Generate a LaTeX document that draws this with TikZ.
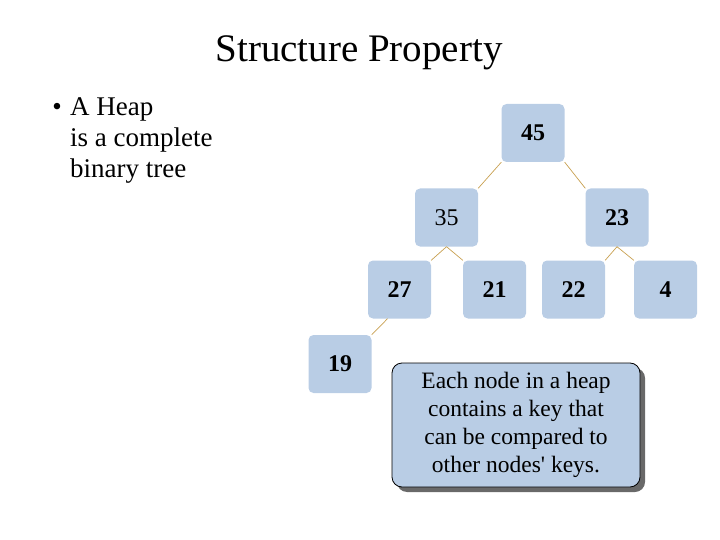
\documentclass[tikz,border=0pt]{standalone}
\usepackage{fontspec}
\setmainfont{Liberation Serif}[Ligatures=TeXOff]
\usetikzlibrary{shadows}
\definecolor{keyblue}{RGB}{185,205,229}
\definecolor{branchgold}{RGB}{200,160,80}
\definecolor{shadowgray}{RGB}{105,105,105}

\begin{document}
\begin{tikzpicture}[
    x=1pt, y=-1pt,
    key/.style={fill=keyblue, rounded corners=5pt, minimum width=63pt, minimum height=58pt, inner sep=0pt,
                font=\fontsize{24}{28}\selectfont\bfseries},
    keylight/.style={key, font=\fontsize{24}{28}\selectfont},
    branch/.style={draw=branchgold, line width=0.7pt},
    callout/.style={draw, line width=0.8pt, fill=keyblue, rounded corners=10pt, minimum width=248pt, minimum height=124pt,
                    align=center, font=\fontsize{23.5}{28}\selectfont,
                    drop shadow={shadow xshift=5pt, shadow yshift=-5pt, fill=shadowgray, opacity=1}},
]
\useasboundingbox (0,0) rectangle (720,540);

% Title and bullet text
\node[font=\fontsize{39}{44}\selectfont, anchor=base] (title) at (359,62) {Structure Property};
\node[font=\fontsize{27}{31}\selectfont, anchor=base] (bul) at (57,116) {•};
\node[font=\fontsize{27}{31}\selectfont, align=left, anchor=base west, inner sep=0pt] (heapnote) at (70,178)
    {A Heap\\is a complete\\binary tree};

% Heap nodes, level by level
\node[key]      (k45) at (533,133)   {45};
\node[keylight] (k35) at (446.5,217.5) {35};
\node[key]      (k23) at (617,217.5) {23};
\node[key]      (k27) at (399.5,289.5) {27};
\node[key]      (k21) at (494.5,289.5) {21};
\node[key]      (k22) at (573.5,289.5) {22};
\node[key]      (k4)  at (665.5,289.5) {4};
\node[key]      (k19) at (340,364)   {19};

% Branches
\draw[branch] (k45.south west) -- (k35.north east);
\draw[branch] (k45.south east) -- (k23.north west);
\draw[branch] (k35.south) -- (k27.north east);
\draw[branch] (k35.south) -- (k21.north west);
\draw[branch] (k23.south) -- (k22.north east);
\draw[branch] (k23.south) -- (k4.north west);
\draw[branch] ([xshift=-12pt]k27.south) -- (k19.north east);

% Callout
\node[callout] (note) at (516,425)
    {Each node in a heap\\contains a key that\\can be compared to\\other nodes' keys.};

\end{tikzpicture}
\end{document}
